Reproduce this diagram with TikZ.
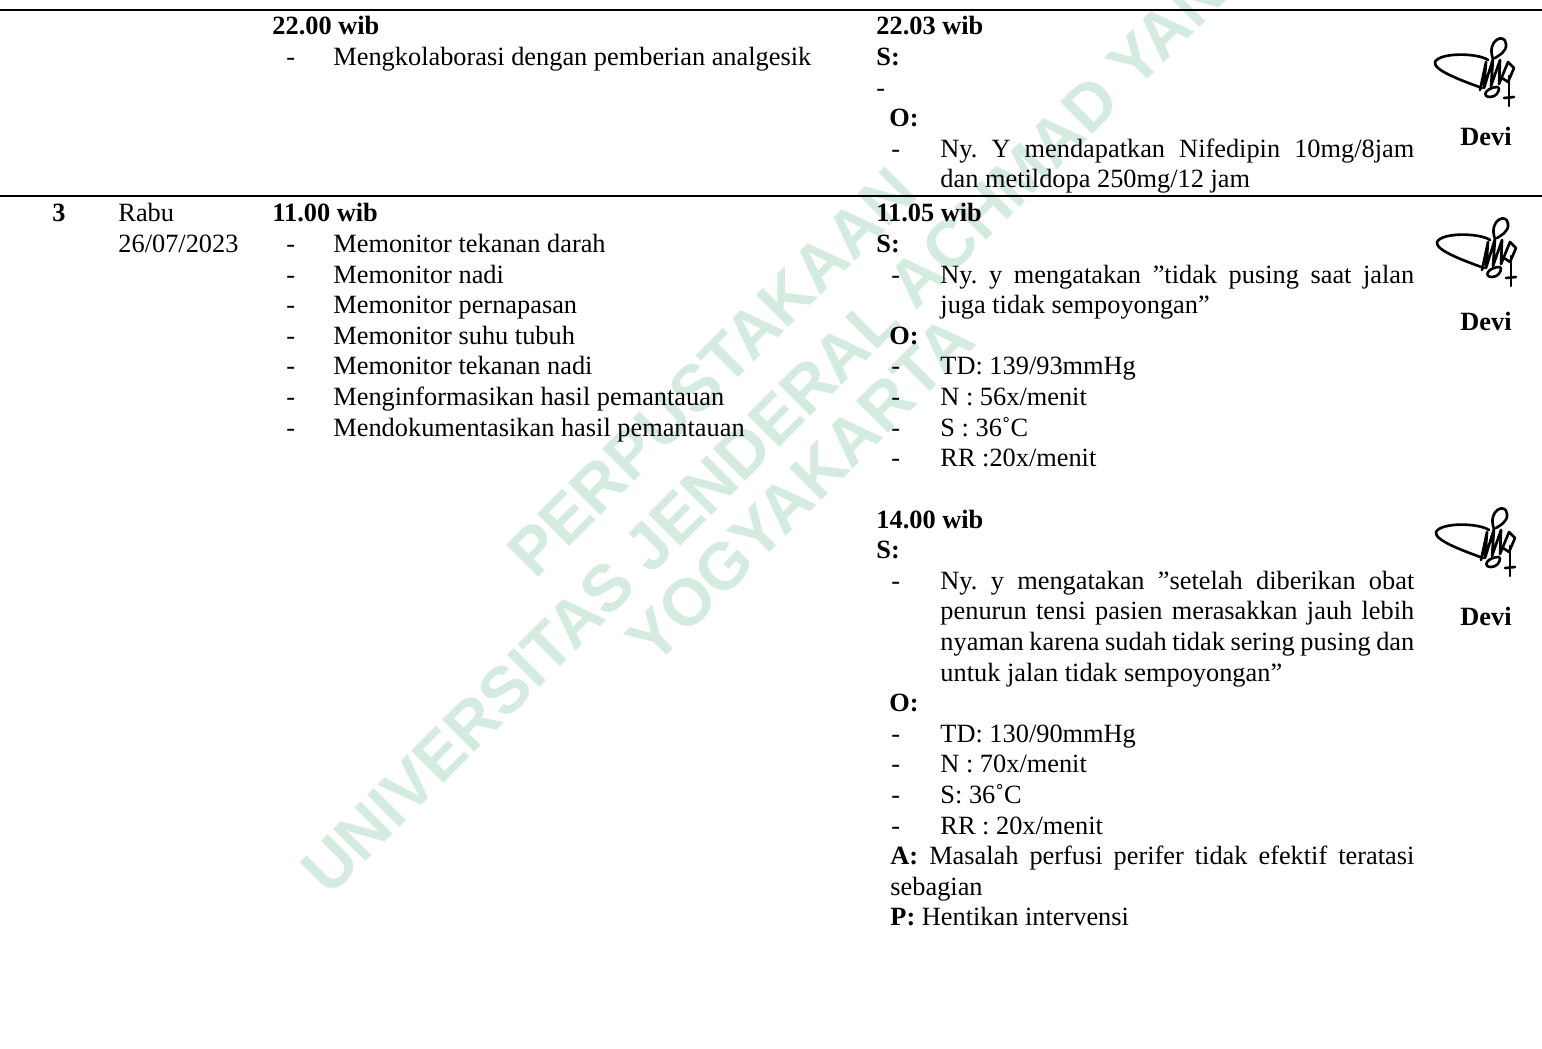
\documentclass[tikz,border=0pt]{standalone}
\usepackage{fontspec}
\setmainfont{Liberation Serif}
\newfontfamily\wmfont{Liberation Sans}
\usepackage{tikz}
\usetikzlibrary{positioning}
\definecolor{wmGreen}{RGB}{212,236,224}
\newcommand{\jrow}[2]{\makebox[#1][s]{#2}}
\frenchspacing

\begin{document}
\begin{tikzpicture}[x=0.016cm, y=-0.016cm,
          txt/.style={anchor=base west, inner sep=0pt, font=\fontsize{12}{14}\selectfont},
          hd/.style={txt, font=\fontsize{12}{14}\selectfont\bfseries},
          wm/.style={rotate=45, inner sep=0pt, text=wmGreen,
            font=\wmfont\bfseries\fontsize{30}{36}\selectfont},
          rule/.style={line width=0.9pt},
          sig/.style={line width=1.2pt, line cap=round, line join=round},
          paraf/.pic={
            \draw[sig] (10,-10) .. controls (0,-17) and (-38,-18) .. (-43,-8)
                       .. controls (-45,0) and (-18,10) .. (4,18);
            \draw[sig] (2,20) -- (8,-8) -- (6,18) -- (15,-11) -- (13,16) -- (22,-10)
                       -- (21,14) -- (30,-8) -- (36,-2) -- (30,12) -- (24,8);
            \draw[sig] (15,-11) .. controls (8,-30) and (27,-38) .. (28,-26)
                       .. controls (29,-18) and (20,-14) .. (17,-12);
            \draw[sig] (31,6) -- (31,36);
            \draw[sig] (26,28) -- (36,27);
            \draw[sig] (20,17) .. controls (8,17) and (3,27) .. (12,27)
                       .. controls (18,27) and (21,22) .. (21,18);
          }
        ]
          \fill[white] (0,0) rectangle (1542,1049);
          \useasboundingbox (0,0) rectangle (1542,1049);

          % watermark
          \node[wm] (wm1) at (712,372) {PERPUSTAKAAN};
          \node[wm] (wm2) at (770,425) {UNIVERSITAS JENDERAL ACHMAD YANI};
          \node[wm] (wm3) at (800,490) {YOGYAKARTA};

          % rules
          \coordinate (r1a) at (0,10);
          \coordinate (r1b) at (1542,10);
          \coordinate (r2a) at (0,196);
          \coordinate (r2b) at (1542,196);
          \draw[rule] (r1a) -- (r1b);
          \draw[rule] (r2a) -- (r2b);

          % row 2
          \node[hd] (t22) at (272,35) {22.00 wib};
          \node[txt] (d1) at (286,65.6) {-};
          \node[txt] (i1) at (333,65.6) {Mengkolaborasi dengan pemberian analgesik};
          \node[hd] (e22) at (876,35) {22.03 wib};
          \node[hd] (s1) at (876,65.6) {S:};
          \node[txt] (d2) at (876,96.2) {-};
          \node[hd] (o1) at (889,126.8) {O:};
          \node[txt] (d3) at (891,157.4) {-};
          \node[txt] (n1) at (940,157.4) {\jrow{215.8pt}{Ny. Y mendapatkan Nifedipin 10mg/8jam}};
          \node[txt] (n2) at (940,188) {dan metildopa 250mg/12 jam};
          \pic (sg1) at (1478,70) {paraf};
          \node[hd, anchor=base] (dv1) at (1486,146) {Devi};

          % row 3, left part
          \node[hd] (no3) at (52,222) {3};
          \node[txt] (day) at (118,222) {Rabu};
          \node[txt] (date) at (118,252.6) {26/07/2023};
          \node[hd] (t11) at (272,222) {11.00 wib};
          \node[txt] (m1d) at (286,252.6) {-};
          \node[txt] (m1) at (333,252.6) {Memonitor tekanan darah};
          \node[txt] (m2d) at (286,283.2) {-};
          \node[txt] (m2) at (333,283.2) {Memonitor nadi};
          \node[txt] (m3d) at (286,313.8) {-};
          \node[txt] (m3) at (333,313.8) {Memonitor pernapasan};
          \node[txt] (m4d) at (286,344.4) {-};
          \node[txt] (m4) at (333,344.4) {Memonitor suhu tubuh};
          \node[txt] (m5d) at (286,375) {-};
          \node[txt] (m5) at (333,375) {Memonitor tekanan nadi};
          \node[txt] (m6d) at (286,405.6) {-};
          \node[txt] (m6) at (333,405.6) {Menginformasikan hasil pemantauan};
          \node[txt] (m7d) at (286,436.2) {-};
          \node[txt] (m7) at (333,436.2) {Mendokumentasikan hasil pemantauan};

          % row 3, evaluation 11.05
          \node[hd] (e11) at (876,222) {11.05 wib};
          \node[hd] (s2) at (876,252.6) {S:};
          \node[txt] (a1d) at (891,283.2) {-};
          \node[txt] (a1) at (940,283.2) {\jrow{215.8pt}{Ny. y mengatakan ”tidak pusing saat jalan}};
          \node[txt] (a2) at (940,313.8) {juga tidak sempoyongan”};
          \node[hd] (o2) at (889,344.4) {O:};
          \node[txt] (b1d) at (891,375) {-};
          \node[txt] (b1) at (940,375) {TD: 139/93mmHg};
          \node[txt] (b2d) at (891,405.6) {-};
          \node[txt] (b2) at (940,405.6) {N : 56x/menit};
          \node[txt] (b3d) at (891,436.2) {-};
          \node[txt] (b3) at (940,436.2) {S : 36˚C};
          \node[txt] (b4d) at (891,466.8) {-};
          \node[txt] (b4) at (940,466.8) {RR :20x/menit};
          \pic (sg2) at (1480,250) {paraf};
          \node[hd, anchor=base] (dv2) at (1486,331) {Devi};

          % row 3, evaluation 14.00
          \node[hd] (e14) at (876,528) {14.00 wib};
          \node[hd] (s3) at (876,558.6) {S:};
          \node[txt] (c1d) at (891,589.2) {-};
          \node[txt] (c1) at (940,589.2) {\jrow{215.8pt}{Ny. y mengatakan ”setelah diberikan obat}};
          \node[txt] (c2) at (940,619.8) {\jrow{215.8pt}{penurun tensi pasien merasakkan jauh lebih}};
          \node[txt] (c3) at (940,650.4) {\jrow{215.8pt}{nyaman karena sudah tidak sering pusing dan}};
          \node[txt] (c4) at (940,681) {untuk jalan tidak sempoyongan”};
          \node[hd] (o3) at (889,711.6) {O:};
          \node[txt] (f1d) at (891,742.2) {-};
          \node[txt] (f1) at (940,742.2) {TD: 130/90mmHg};
          \node[txt] (f2d) at (891,772.8) {-};
          \node[txt] (f2) at (940,772.8) {N : 70x/menit};
          \node[txt] (f3d) at (891,803.4) {-};
          \node[txt] (f3) at (940,803.4) {S: 36˚C};
          \node[txt] (f4d) at (891,834) {-};
          \node[txt] (f4) at (940,834) {RR : 20x/menit};
          \node[txt] (as1) at (890,864.6) {\jrow{238.6pt}{\textbf{A:} Masalah perfusi perifer tidak efektif teratasi}};
          \node[txt] (as2) at (890,895.2) {sebagian};
          \node[txt] (pl) at (890,925.8) {\textbf{P:} Hentikan intervensi};
          \pic (sg3) at (1479,540) {paraf};
          \node[hd, anchor=base] (dv3) at (1486,625) {Devi};
        \end{tikzpicture}
\end{document}
